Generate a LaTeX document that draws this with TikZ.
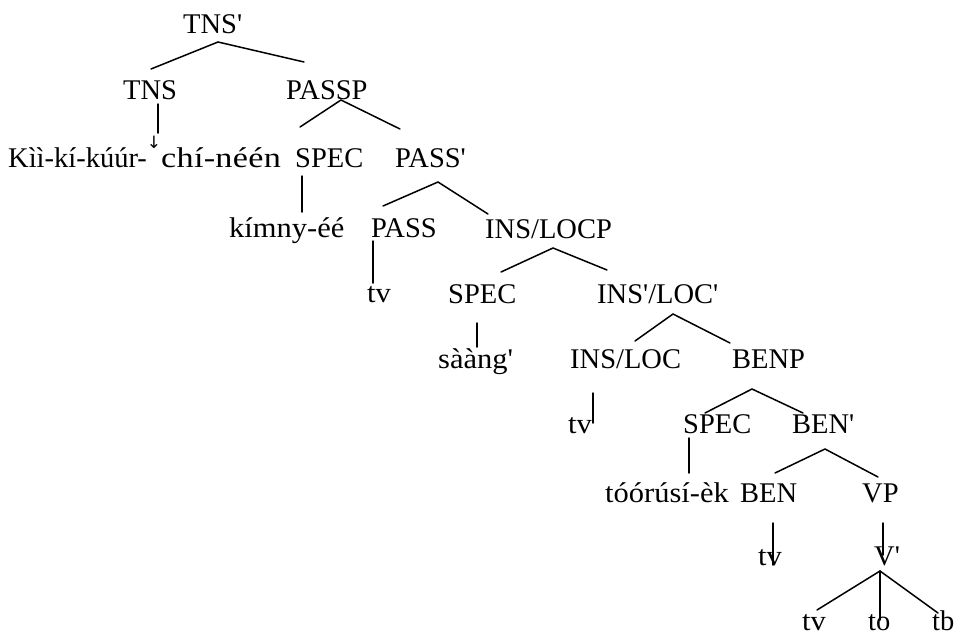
\documentclass[tikz,border=0pt]{standalone}
\usepackage{fontspec}
\setmainfont{Liberation Serif}[Ligatures=TeXOff]
\newfontfamily\arrowfont{DejaVu Sans}
\usetikzlibrary{calc}
\tikzset{
  lab/.style={anchor=base west, inner sep=0pt, font=\fontsize{28.5}{32}\selectfont},
  lex/.style={lab, font=\fontsize{28.5}{32}\selectfont\addfontfeature{FakeStretch=1.07}},
  branch/.style={line width=1.5pt, line cap=round}
}
\newcommand{\dstep}{{\arrowfont\fontsize{17}{17}\selectfont\raisebox{19pt}{↓}}}
\begin{document}
\begin{tikzpicture}[x=1pt,y=-1pt]
\useasboundingbox (0,0) rectangle (955,635);
% row 1
\node[lab] (tnsbar) at (183,33) {TNS'};
% row 2
\node[lab] (tns) at (123,99) {TNS};
\node[lab] (passp) at (286,99) {PASSP};
% row 3
\node[lab] (kii) at (8,167) {Kìì-kí-kúúr-\dstep{\addfontfeature{FakeStretch=1.2,LetterSpace=1}chí-néén}};
\node[lab] (specA) at (295,167) {SPEC};
\node[lab] (passbar) at (395,167) {PASS'};
% row 4
\node[lex] (kimny) at (229,237) {kímny-éé};
\node[lab] (pass) at (371,237) {PASS};
\node[lab] (inslocp) at (485,238) {INS/LOCP};
% row 5
\node[lex] (tvA) at (367,302) {tv};
\node[lab] (specB) at (448,303) {SPEC};
\node[lab] (inslocbar) at (597,303) {INS'/LOC'};
% row 6
\node[lex] (saang) at (438,368) {sààng'};
\node[lab] (insloc) at (570,368) {INS/LOC};
\node[lab] (benp) at (732,368) {BENP};
% row 7
\node[lex] (tvB) at (568,433) {tv};
\node[lab] (specC) at (683,433) {SPEC};
\node[lab] (benbar) at (792,433) {BEN'};
% row 8
\node[lex] (toor) at (605,502) {tóórúsí-èk};
\node[lab] (ben) at (740,502) {BEN};
\node[lab] (vp) at (862,502) {VP};
% row 9
\node[lex] (tvC) at (758,565) {tv};
\node[lab] (vbar) at (874,565) {V'};
% row 10
\node[lex] (tvD) at (802,630) {tv};
\node[lab] (to) at (868,630) {to};
\node[lab] (tb) at (932,630) {tb};

% connectors
\draw[branch] ($(tns.base west)+(28,-30)$) -- ($(tnsbar.base west)+(35,9)$) -- ($(passp.base west)+(18,-37)$);
\draw[branch] ($(tns.base west)+(35,5)$) -- ($(kii.base west)+(150,-34)$);
\draw[branch] ($(specA.base west)+(5,-40)$) -- ($(passp.base west)+(55,1)$) -- ($(passbar.base west)+(5,-38)$);
\draw[branch] ($(specA.base west)+(7,9)$) -- ($(kimny.base west)+(73,-25)$);
\draw[branch] ($(pass.base west)+(12,-31)$) -- ($(passbar.base west)+(43,15)$) -- ($(inslocp.base west)+(3,-24)$);
\draw[branch] ($(pass.base west)+(2,4)$) -- ($(tvA.base west)+(6,-19)$);
\draw[branch] ($(specB.base west)+(53,-31)$) -- ($(inslocp.base west)+(68,10)$) -- ($(inslocbar.base west)+(10,-33)$);
\draw[branch] ($(specB.base west)+(29,20)$) -- ($(saang.base west)+(39,-21)$);
\draw[branch] ($(insloc.base west)+(65,-27)$) -- ($(inslocbar.base west)+(76,11)$) -- ($(benp.base west)+(-2,-25)$);
\draw[branch] ($(insloc.base west)+(23,25)$) -- ($(tvB.base west)+(25,-10)$);
\draw[branch] ($(specC.base west)+(22,-20)$) -- ($(benp.base west)+(20,21)$) -- ($(benbar.base west)+(11,-20)$);
\draw[branch] ($(specC.base west)+(6,5)$) -- ($(toor.base west)+(84,-29)$);
\draw[branch] ($(ben.base west)+(35,-29)$) -- ($(benbar.base west)+(33,16)$) -- ($(vp.base west)+(16,-25)$);
\draw[branch] ($(ben.base west)+(33,21)$) -- ($(tvC.base west)+(15,0)$);
\draw[branch] ($(vp.base west)+(21,21)$) -- ($(vbar.base west)+(9,-10)$);
\draw[branch] ($(tvD.base west)+(15,-20)$) -- ($(vbar.base west)+(6,6)$) -- ($(tb.base west)+(6,-17)$);
\draw[branch] ($(vbar.base west)+(6,6)$) -- ($(to.base west)+(12,-10)$);
\end{tikzpicture}
\end{document}
